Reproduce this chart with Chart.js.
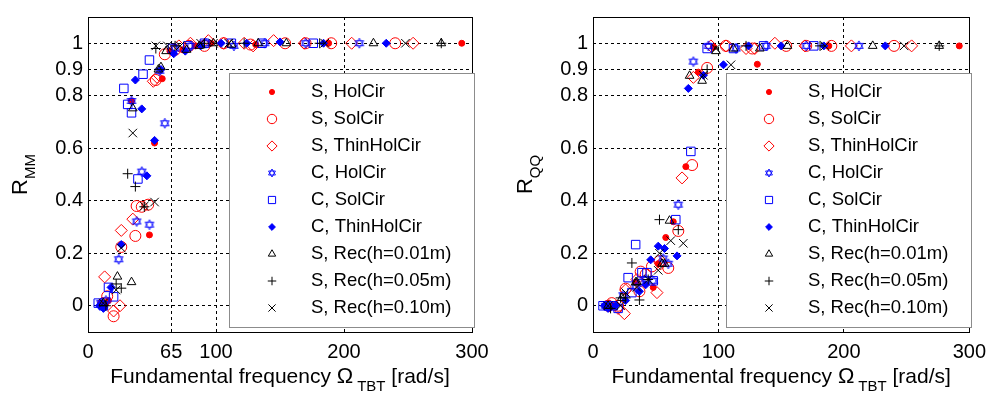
<!DOCTYPE html>
<html>
<head>
<meta charset="utf-8">
<script src="https://cdn.jsdelivr.net/npm/chart.js@4.4.1/dist/chart.umd.min.js"></script>
<style>
  body { margin: 0; background: #fff; }
  #wrap { display: flex; width: 994px; height: 401px; }
  canvas { display: block; }
</style>
</head>
<body>
<div id="wrap">
  <canvas id="mmChart" width="497" height="401"></canvas>
  <canvas id="qqChart" width="497" height="401"></canvas>
</div>
<script>
// Series names (legend order)
const seriesLabels = [
    'S, HolCir', 'S, SolCir', 'S, ThinHolCir',
    'C, HolCir', 'C, SolCir', 'C, ThinHolCir',
    'S, Rec(h=0.01m)', 'S, Rec(h=0.05m)', 'S, Rec(h=0.10m)'
];

// Fundamental frequency [rad/s] per series, with R_MM and R_QQ
const sHolCirFreq = [10, 13, 16, 34, 48, 52, 58, 64, 74, 84, 96, 131, 188, 292];
const sHolCirMM   = [0.01, 0.0, 0.02, 0.78, 0.27, 0.62, 0.865, 0.97, 0.975, 0.99, 1.0, 0.995, 1.0, 1.0];
const sHolCirQQ   = [0.0, -0.01, 0.0, 0.09, 0.07, 0.16, 0.26, 0.32, 0.53, 0.89, 0.985, 0.92, 0.99, 0.99];

const sSolCirFreq = [12, 15, 20, 26, 37, 38, 42, 47, 53, 60, 68, 79, 91, 106, 127, 154, 170, 190, 240];
const sSolCirMM   = [0.01, 0.036, -0.04, 0.224, 0.266, 0.38, 0.377, 0.385, 0.86, 0.958, 0.975, 0.99, 0.99, 1.0, 0.995, 1.0, 1.0, 1.0, 1.0];
const sSolCirQQ   = [0.0, 0.01, 0.0, 0.065, 0.055, 0.13, 0.12, 0.15, 0.17, 0.144, 0.285, 0.536, 0.906, 0.99, 0.98, 0.99, 0.99, 0.99, 0.99];

const sThinFreq = [13, 20, 25, 26, 35, 51, 54, 71, 80, 94, 106, 122, 129, 145, 169, 206, 254];
const sThinMM   = [0.11, -0.02, 0.0, 0.287, 0.33, 0.855, 0.87, 0.99, 1.0, 1.01, 1.0, 1.0, 0.99, 1.01, 1.0, 1.0, 1.0];
const sThinQQ   = [0.0, -0.01, -0.03, 0.06, 0.1, 0.05, 0.16, 0.487, 0.87, 0.99, 0.99, 0.98, 0.98, 1.0, 0.99, 0.99, 0.99];

const cHolCirFreq = [10, 14, 24, 34, 38, 42, 48, 56, 60, 68, 80, 92, 114, 138, 170, 212];
const cHolCirMM   = [0.01, 0.02, 0.177, 0.78, 0.321, 0.511, 0.309, 0.895, 0.695, 0.98, 0.99, 1.0, 0.99, 1.0, 1.0, 1.0];
const cHolCirQQ   = [0.0, 0.0, 0.04, 0.07, 0.09, 0.1, 0.095, 0.18, 0.16, 0.385, 0.93, 0.99, 0.98, 0.99, 0.99, 0.99];

const cSolCirFreq = [8, 12, 16, 20, 28, 31, 34, 39, 43, 48, 66, 78, 91, 112, 136, 176];
const cSolCirMM   = [0.01, 0.0, 0.07, 0.034, 0.828, 0.767, 0.735, 0.483, 0.882, 0.936, 0.98, 0.99, 1.0, 1.0, 1.0, 1.0];
const cSolCirQQ   = [0.0, 0.0, 0.0, -0.01, 0.107, 0.05, 0.233, 0.126, 0.126, 0.095, 0.328, 0.588, 0.98, 0.98, 0.99, 0.99];

const cThinFreq = [9, 12, 18, 26, 37, 42, 46, 52, 57, 67, 76, 88, 104, 124, 150, 184, 233];
const cThinMM   = [0.0, -0.01, 0.07, 0.233, 0.86, 0.75, 0.495, 0.63, 0.9, 0.96, 0.97, 0.99, 1.0, 1.0, 1.005, 1.0, 1.0];
const cThinQQ   = [0.0, -0.01, 0.0, 0.02, 0.055, 0.08, 0.175, 0.227, 0.218, 0.19, 0.828, 0.878, 0.918, 0.99, 0.99, 0.99, 0.99];

const rec01Freq = [12, 23, 34, 35, 55, 57, 61, 77, 87, 98, 112, 133, 155, 223, 276];
const rec01MM   = [0.01, 0.111, 0.09, 0.752, 0.9, 0.909, 0.97, 0.975, 0.99, 1.0, 0.995, 1.0, 1.0, 1.0, 1.0];
const rec01QQ   = [0.0, 0.03, 0.089, 0.09, 0.16, 0.16, 0.324, 0.876, 0.857, 0.97, 0.98, 0.98, 0.99, 0.99, 0.99];

const rec05Freq = [14, 22, 26, 31, 37, 44, 53, 68, 91, 122, 181, 276];
const rec05MM   = [0.0, 0.083, 0.067, 0.503, 0.454, 0.377, 0.98, 0.99, 1.0, 1.0, 1.0, 1.0];
const rec05QQ   = [-0.01, 0.03, 0.03, 0.163, 0.022, 0.1, 0.328, 0.29, 0.9, 0.99, 0.99, 0.99];

const rec10Freq = [12, 22, 26, 35, 44, 52, 53, 62, 72, 88, 98, 110, 185, 248];
const rec10MM   = [0.01, 0.06, 0.22, 0.658, 0.38, 0.395, 0.99, 0.99, 0.99, 1.0, 1.0, 1.0, 1.0, 1.0];
const rec10QQ   = [0.0, 0.0, 0.05, 0.07, 0.1, 0.135, 0.2, 0.248, 0.238, 0.878, 0.98, 0.918, 0.99, 0.99];

// Axis ticks
const mmXTicks = [0, 65, 100, 200, 300];
const qqXTicks = [0, 100, 200, 300];
const yTicks = [0, 0.2, 0.4, 0.6, 0.8, 0.9, 1];
const yTickLabels = ['0', '0.2', '0.4', '0.6', '0.8', '0.9', '1'];

const freqs = [sHolCirFreq, sSolCirFreq, sThinFreq, cHolCirFreq, cSolCirFreq, cThinFreq, rec01Freq, rec05Freq, rec10Freq];
const mmValues = [sHolCirMM, sSolCirMM, sThinMM, cHolCirMM, cSolCirMM, cThinMM, rec01MM, rec05MM, rec10MM];
const qqValues = [sHolCirQQ, sSolCirQQ, sThinQQ, cHolCirQQ, cSolCirQQ, cThinQQ, rec01QQ, rec05QQ, rec10QQ];

const FONT = 'Liberation Sans, Arial, Helvetica, sans-serif';

// Star of David marker (not a built-in Chart.js point style)
function hexagram(color, r) {
    const size = 2 * Math.ceil(r + 2);
    const c = document.createElement('canvas');
    c.width = size;
    c.height = size;
    const g = c.getContext('2d');
    g.strokeStyle = color;
    g.lineWidth = 0.9;
    const mid = size / 2;
    [-Math.PI / 2, Math.PI / 2].forEach(a0 => {
        g.beginPath();
        for (let k = 0; k < 3; k++) {
            const a = a0 + k * 2 * Math.PI / 3;
            const px = mid + r * Math.cos(a);
            const py = mid + r * Math.sin(a);
            if (k === 0) g.moveTo(px, py); else g.lineTo(px, py);
        }
        g.closePath();
        g.stroke();
    });
    return c;
}

const RED = '#ff0000', BLUE = '#0000ff', BLACK = '#000000';
const markers = [
    { style: 'circle',   radius: 3,   color: RED,   filled: true },
    { style: 'circle',   radius: 5.5, color: RED,   filled: false },
    { style: 'rectRot',  radius: 6,   color: RED,   filled: false },
    { style: hexagram(BLUE, 5), radius: 5, color: BLUE, filled: false },
    { style: 'rect',     radius: 6,   color: BLUE,  filled: false },
    { style: 'rectRot',  radius: 4,   color: BLUE,  filled: true },
    { style: 'triangle', radius: 5,   color: BLACK, filled: false },
    { style: 'cross',    radius: 5,   color: BLACK, filled: false },
    { style: 'crossRot', radius: 6,   color: BLACK, filled: false }
];
const legendHexagram = hexagram(BLUE, 4);

function buildDatasets(values) {
    return seriesLabels.map((label, i) => ({
        label: label,
        data: freqs[i].map((f, k) => ({ x: f, y: values[i][k] })),
        pointStyle: markers[i].style,
        pointRadius: markers[i].radius,
        pointHoverRadius: markers[i].radius,
        pointBorderWidth: 1,
        pointBorderColor: markers[i].color,
        pointBackgroundColor: markers[i].filled ? markers[i].color : 'rgba(0,0,0,0)',
        showLine: false,
        order: seriesLabels.length - i
    }));
}

// Frame, axis titles and legend box, drawn on top of the points
function decorPlugin(subText) {
    return {
        id: 'decor',
        afterDraw(chart) {
            const ctx = chart.ctx;
            const a = chart.chartArea;
            ctx.save();

            // axes box
            ctx.strokeStyle = '#000';
            ctx.lineWidth = 1;
            ctx.strokeRect(Math.round(a.left) + 0.5, Math.round(a.top) + 0.5,
                Math.round(a.right - a.left), Math.round(a.bottom - a.top));

            // legend
            const lx = Math.round(a.right) - 243;
            const ly = 73;
            const lw = 245, lh = 254;
            ctx.fillStyle = '#fff';
            ctx.fillRect(lx, ly, lw, lh);
            ctx.strokeStyle = '#8c8c8c';
            ctx.strokeRect(lx + 0.5, ly + 0.5, lw, lh);
            ctx.font = '18.5px ' + FONT;
            ctx.textBaseline = 'middle';
            ctx.textAlign = 'left';
            seriesLabels.forEach((label, i) => {
                const y = ly + 19 + i * 27;
                const m = markers[i];
                ctx.strokeStyle = m.color;
                ctx.fillStyle = m.filled ? m.color : 'rgba(0,0,0,0)';
                ctx.lineWidth = 1;
                Chart.helpers.drawPoint(ctx, {
                    pointStyle: typeof m.style === 'string' ? m.style : legendHexagram,
                    radius: m.radius * 0.85, borderWidth: 1, rotation: 0
                }, lx + 43, y);
                ctx.fillStyle = '#000';
                ctx.fillText(label, lx + 82, y);
            });

            // x axis title
            ctx.fillStyle = '#000';
            ctx.textBaseline = 'alphabetic';
            const main = 'Fundamental frequency ';
            const tail = ' [rad/s]';
            ctx.font = '21px ' + FONT;
            const w1 = ctx.measureText(main).width;
            ctx.font = '22px ' + FONT;
            const w2 = ctx.measureText('\u03A9').width;
            ctx.font = '15px ' + FONT;
            const w3 = ctx.measureText('TBT').width;
            ctx.font = '21px ' + FONT;
            const w4 = ctx.measureText(tail).width;
            let x = (a.left + a.right) / 2 - (w1 + w2 + 4 + w3 + w4) / 2;
            const by = 383;
            ctx.fillText(main, x, by); x += w1;
            ctx.font = '22px ' + FONT;
            ctx.fillText('\u03A9', x, by); x += w2 + 4;
            ctx.font = '15px ' + FONT;
            ctx.fillText('TBT', x, by + 8); x += w3;
            ctx.font = '21px ' + FONT;
            ctx.fillText(tail, x, by);

            // y axis title
            ctx.translate(a.left - 61, (a.top + a.bottom) / 2);
            ctx.rotate(-Math.PI / 2);
            ctx.font = '22px ' + FONT;
            const r1 = ctx.measureText('R').width;
            ctx.font = '15px ' + FONT;
            const r2 = ctx.measureText(subText).width;
            const sx = -(r1 + r2) / 2;
            ctx.font = '22px ' + FONT;
            ctx.fillText('R', sx, 0);
            ctx.font = '15px ' + FONT;
            ctx.fillText(subText, sx + r1, 8);
            ctx.restore();
        }
    };
}

function makeChart(canvasId, values, xTicks, padLeft, padRight, subText) {
    return new Chart(document.getElementById(canvasId), {
        type: 'scatter',
        data: { datasets: buildDatasets(values) },
        options: {
            responsive: false,
            animation: false,
            layout: { padding: { left: padLeft, right: padRight, top: 5, bottom: 0 } },
            plugins: {
                legend: { display: false },
                tooltip: { enabled: false }
            },
            scales: {
                x: {
                    type: 'linear',
                    min: 0,
                    max: 300,
                    afterBuildTicks: scale => { scale.ticks = xTicks.map(v => ({ value: v })); },
                    afterFit: scale => { scale.height = 69; },
                    grid: { color: '#000', lineWidth: 1, drawTicks: false },
                    border: { display: false, dash: [3, 3] },
                    ticks: {
                        color: '#000',
                        padding: 8,
                        maxRotation: 0,
                        autoSkip: false,
                        font: { family: FONT, size: 20 },
                        callback: v => String(v)
                    }
                },
                y: {
                    type: 'linear',
                    min: -0.1,
                    max: 1.1,
                    afterBuildTicks: scale => { scale.ticks = yTicks.map(v => ({ value: v })); },
                    afterFit: scale => { scale.width = 83; },
                    grid: { color: '#000', lineWidth: 1, drawTicks: false },
                    border: { display: false, dash: [3, 3] },
                    ticks: {
                        color: '#000',
                        padding: 5,
                        autoSkip: false,
                        font: { family: FONT, size: 20 },
                        callback: v => yTickLabels[yTicks.indexOf(v)]
                    }
                }
            }
        },
        plugins: [decorPlugin(subText)]
    });
}

makeChart('mmChart', mmValues, mmXTicks, 5, 25, 'MM');
makeChart('qqChart', qqValues, qqXTicks, 13, 19, 'QQ');
</script>
</body>
</html>
